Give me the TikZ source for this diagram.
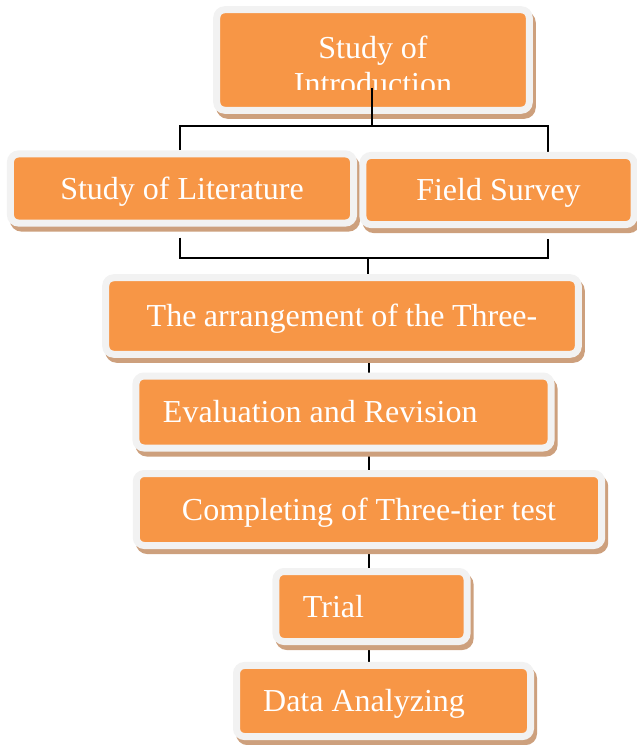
\documentclass[tikz,border=0pt]{standalone}
\usepackage{fontspec}
\setmainfont{Liberation Serif}
\usetikzlibrary{positioning,calc}
\definecolor{boxorange}{RGB}{247,150,70}
\definecolor{boxframe}{RGB}{242,242,242}
\definecolor{boxshadow}{RGB}{205,160,125}
\pgfdeclarelayer{background}
\pgfsetlayers{background,main}

\begin{document}
\begin{tikzpicture}[x=0.75pt,y=-0.75pt,
    flowbox/.style={fill=boxorange,draw=boxframe,line width=5.25pt,rounded corners=6pt,
        text=white,font=\fontsize{24}{27}\selectfont,text height=16pt,text depth=0pt,
        preaction={draw=boxshadow,fill=boxshadow,transform canvas={shift={(2.25pt,-3.75pt)}}}},
    link/.style={line width=1.2pt}]
    \useasboundingbox (0,0) rectangle (636,745);
    % Research procedure
    \node[flowbox,minimum width=234.4pt,minimum height=75.4pt] (intro) at (373,60) {};
    \begin{scope}
        \clip (215,5) rectangle (531,90);
        \node[text=white,font=\fontsize{24}{27}\selectfont,align=center] (introtext) at (373,65) {Study of\\Introduction};
    \end{scope}
    \node[flowbox,minimum width=257.3pt,minimum height=51.8pt] (lit) at (182,188.5) {Study of Literature};
    \node[flowbox,minimum width=203.3pt,minimum height=51.8pt] (field) at (498.5,190) {Field Survey};
    \node[flowbox,minimum width=354.4pt,minimum height=57.4pt,text width=292.9pt,inner xsep=30.75pt,align=flush left] (arrange) at (342,316) {The arrangement of the Three-};
    \node[flowbox,minimum width=311.3pt,minimum height=54pt,text width=270.8pt,inner xsep=20.25pt,align=flush left] (eval) at (343.5,412) {Evaluation and Revision};
    \node[flowbox,minimum width=349.1pt,minimum height=54pt] (complete) at (369,509.5) {Completing of Three-tier test};
    \node[flowbox,minimum width=143.3pt,minimum height=52.5pt,text width=102.8pt,inner xsep=20.25pt,align=flush left] (trial) at (371.5,606.5) {Trial};
    \node[flowbox,minimum width=220.5pt,minimum height=53.3pt,text width=180.5pt,inner xsep=20pt,align=flush left] (data) at (383.5,701) {Data Analyzing};

    \coordinate (introtap) at (372,88);
    \coordinate (splitL) at (180,126);
    \coordinate (splitR) at (548,126);
    \coordinate (joinL) at (180,258);
    \coordinate (joinR) at (548,258);
    \coordinate (joinM) at (368,258);
    \coordinate (spine) at (369,0);

    \draw[link] (introtap) -- (introtap |- splitL);
    \begin{pgfonlayer}{background}
        \draw[link] (splitL |- lit.north) -- (splitL) -- (splitR) -- (splitR |- field.north);
        \draw[link] ($(joinL |- lit.south)+(0,11)$) -- (joinL) -- (joinR) -- ($(joinR |- field.south)+(0,11)$);
        \draw[link] (joinM) -- (joinM |- arrange.north);
        \draw[link] (arrange.south -| spine) -- (eval.north -| spine);
        \draw[link] (eval.south -| spine) -- (complete.north -| spine);
        \draw[link] (complete.south -| spine) -- (trial.north -| spine);
        \draw[link] (trial.south -| spine) -- (data.north -| spine);
    \end{pgfonlayer}
\end{tikzpicture}
\end{document}
